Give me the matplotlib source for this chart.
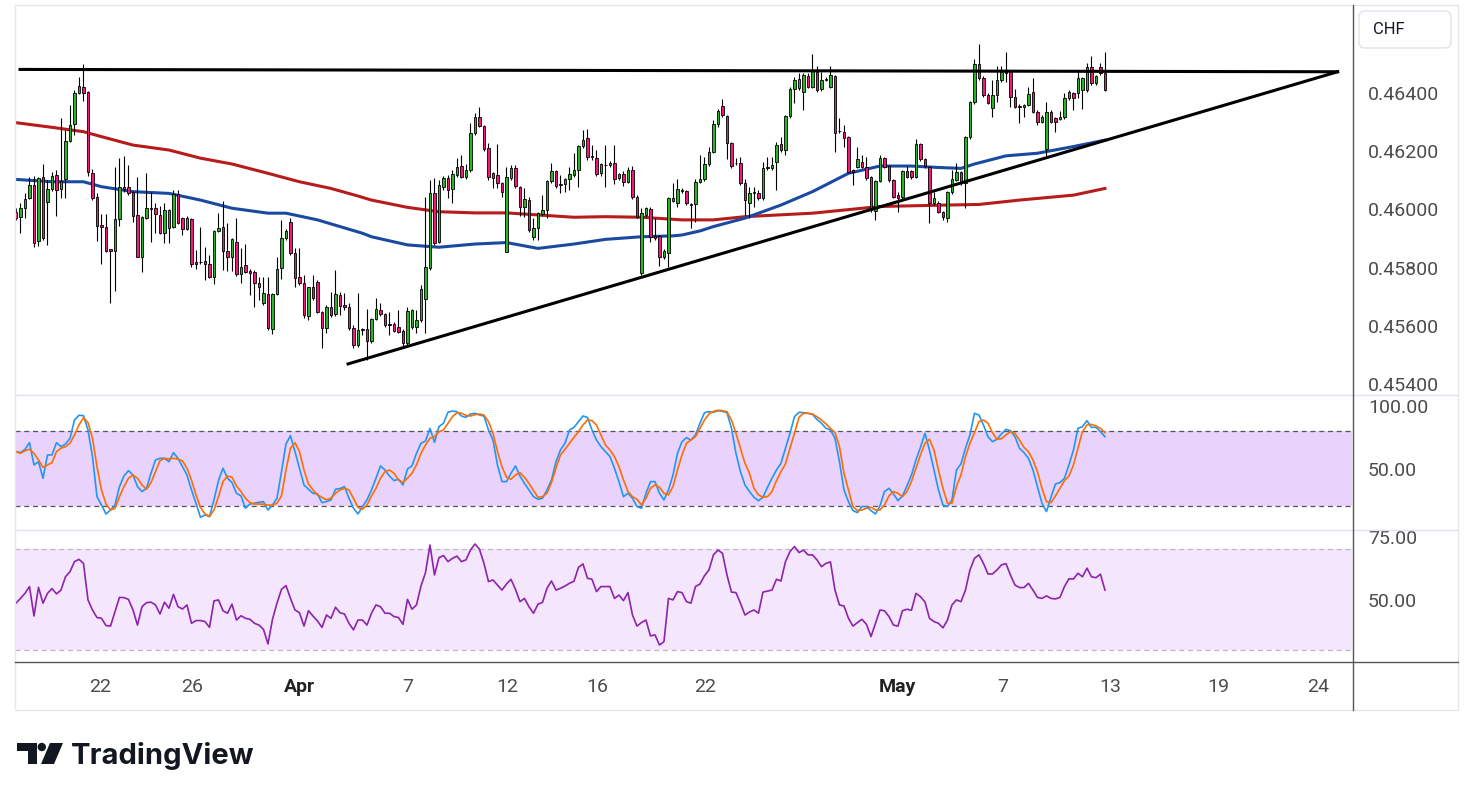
import numpy as np
import matplotlib.pyplot as plt
from matplotlib.patches import Rectangle, FancyBboxPatch, Polygon, Circle
from matplotlib.lines import Line2D

plt.rcParams['font.family'] = ['Roboto', 'DejaVu Sans']

# 4h candles, prices in 1e-5 CHF
opens = [45992, 45973, 46004, 46038, 46084, 45891, 46110, 46027, 46069, 46117,
         46069, 46103, 46235, 46292, 46401, 46422, 46402, 46124, 46042, 45946,
         45941, 45863, 45858, 45968, 46077, 46077, 46061, 45981, 45838, 45970,
         46004, 46004, 45981, 45918, 45935, 45939, 46052, 45970, 45932, 45967,
         45818, 45819, 45822, 45812, 45766, 45927, 45939, 45858, 45838, 45889,
         45777, 45809, 45788, 45784, 45748, 45679, 45709, 45588, 45708, 45797,
         45901, 45958, 45849, 45766, 45746, 45632, 45732, 45752, 45648, 45591,
         45665, 45641, 45706, 45671, 45663, 45591, 45534, 45589, 45588, 45549,
         45622, 45654, 45641, 45606, 45605, 45595, 45583, 45542, 45595, 45597,
         45620, 45692, 45797, 46055, 45889, 46076, 46107, 46069, 46118, 46150,
         46110, 46135, 46261, 46316, 46287, 46210, 46124, 46118, 46090, 45855,
         46107, 46141, 46078, 46007, 46032, 45906, 45935, 45984, 45998, 46098,
         46132, 46087, 46087, 46103, 46118, 46135, 46218, 46244, 46182, 46178,
         46124, 46154, 46152, 46158, 46107, 46121, 46095, 46135, 46042, 45780,
         45981, 46000, 45909, 45910, 45835, 45851, 46030, 46023, 46067, 46064,
         46018, 46017, 46095, 46103, 46155, 46198, 46293, 46355, 46321, 46229,
         46160, 46158, 46092, 46023, 46055, 46058, 46038, 46144, 46141, 46164,
         46224, 46204, 46321, 46413, 46416, 46404, 46458, 46422, 46473, 46413,
         46448, 46422, 46458, 46269, 46267, 46248, 46135, 46147, 46164, 46147,
         46110, 45996, 46099, 46175, 46149, 46101, 46050, 46042, 46132, 46132,
         46112, 46224, 46172, 46147, 46021, 46022, 45992, 45970, 46059, 46101,
         46127, 46090, 46248, 46368, 46500, 46451, 46393, 46347, 46393, 46445,
         46468, 46473, 46387, 46354, 46351, 46359, 46404, 46336, 46301, 46207,
         46336, 46313, 46312, 46316, 46382, 46399, 46399, 46410, 46410, 46488,
         46433, 46488, 46468]
highs = [46005, 46021, 46055, 46112, 46115, 46112, 46156, 46101, 46130, 46135,
         46314, 46273, 46359, 46410, 46456, 46500, 46407, 46139, 46058, 45983,
         45983, 45864, 46147, 46177, 46184, 46152, 46064, 46112, 45977, 46126,
         46061, 46021, 46012, 46021, 46001, 46067, 46067, 45974, 45978, 45970,
         45860, 45939, 45872, 45843, 45929, 45987, 46028, 45952, 45902, 45970,
         45866, 45881, 45794, 45792, 45766, 45766, 45766, 45712, 45838, 45964,
         45933, 45972, 45866, 45866, 45774, 45733, 45774, 45757, 45651, 45671,
         45717, 45792, 45717, 45712, 45678, 45603, 45712, 45593, 45658, 45627,
         45694, 45679, 45644, 45648, 45613, 45654, 45589, 45665, 45658, 45654,
         45740, 46044, 46101, 46107, 46101, 46115, 46118, 46135, 46175, 46187,
         46156, 46296, 46330, 46351, 46290, 46228, 46128, 46225, 46094, 46146,
         46152, 46152, 46080, 46072, 46041, 45970, 45991, 46049, 46101, 46158,
         46135, 46118, 46108, 46147, 46193, 46221, 46273, 46275, 46221, 46204,
         46160, 46221, 46167, 46221, 46126, 46132, 46147, 46149, 46049, 46004,
         46009, 46009, 45970, 45912, 45864, 46044, 46090, 46103, 46074, 46067,
         46022, 46103, 46187, 46181, 46213, 46307, 46344, 46378, 46324, 46231,
         46177, 46179, 46103, 46078, 46078, 46067, 46164, 46181, 46179, 46233,
         46250, 46324, 46422, 46456, 46468, 46468, 46470, 46534, 46493, 46473,
         46455, 46493, 46462, 46313, 46290, 46252, 46139, 46215, 46187, 46181,
         46115, 46101, 46187, 46181, 46152, 46103, 46061, 46135, 46149, 46135,
         46241, 46227, 46177, 46149, 46061, 46029, 45995, 46064, 46135, 46160,
         46132, 46252, 46372, 46516, 46568, 46458, 46400, 46445, 46493, 46493,
         46542, 46479, 46413, 46362, 46362, 46420, 46450, 46342, 46324, 46370,
         46342, 46318, 46339, 46399, 46410, 46403, 46473, 46455, 46502, 46527,
         46462, 46504, 46542]
lows = [45964, 45920, 45970, 46036, 45870, 45874, 45895, 45879, 46063, 45978,
        46038, 46039, 46232, 46256, 46397, 46374, 46115, 46032, 45893, 45812,
        45854, 45678, 45721, 45944, 46060, 46050, 45958, 45835, 45784, 45967,
        45889, 45920, 45916, 45886, 45885, 45936, 45950, 45912, 45929, 45803,
        45794, 45812, 45757, 45764, 45742, 45922, 45792, 45790, 45790, 45771,
        45746, 45782, 45706, 45665, 45689, 45671, 45586, 45572, 45706, 45762,
        45895, 45843, 45732, 45740, 45627, 45620, 45689, 45644, 45523, 45575,
        45630, 45634, 45637, 45654, 45586, 45523, 45527, 45569, 45483, 45541,
        45620, 45634, 45596, 45569, 45579, 45575, 45528, 45528, 45589, 45576,
        45613, 45576, 45792, 45878, 45885, 46067, 46038, 46023, 46111, 46108,
        46104, 46128, 46256, 46283, 46201, 46101, 46072, 46074, 46044, 45854,
        46101, 46074, 45977, 45975, 45922, 45895, 45895, 45977, 45969, 46091,
        46074, 46055, 46061, 46067, 46111, 46078, 46211, 46170, 46170, 46115,
        46115, 46078, 46146, 46087, 46101, 46080, 46091, 46036, 45970, 45775,
        45974, 45889, 45895, 45806, 45830, 45803, 46025, 46009, 46056, 46015,
        45935, 45958, 46091, 46098, 46149, 46194, 46284, 46317, 46172, 46142,
        46153, 46084, 45981, 45970, 46009, 46032, 46032, 46135, 46135, 46067,
        46197, 46187, 46314, 46367, 46410, 46342, 46417, 46417, 46403, 46407,
        46441, 46417, 46198, 46262, 46215, 46125, 46084, 46142, 46142, 46101,
        45992, 45964, 46094, 46142, 46094, 46039, 45992, 46036, 46108, 46104,
        46108, 46166, 46142, 45952, 46015, 45988, 45964, 45958, 46053, 46098,
        46084, 46004, 46242, 46362, 46445, 46386, 46362, 46317, 46370, 46438,
        46439, 46351, 46348, 46298, 46317, 46355, 46331, 46290, 46297, 46181,
        46297, 46267, 46307, 46311, 46376, 46342, 46382, 46344, 46403, 46427,
        46427, 46462, 46407]
closes = [45972, 46004, 46035, 46084, 45884, 46109, 45901, 46069, 46115, 46067,
          46099, 46235, 46290, 46399, 46424, 46399, 46127, 46038, 45944, 45939,
          45858, 45858, 45967, 46077, 46070, 46058, 45978, 45838, 45974, 46004,
          46000, 45983, 45918, 45998, 45998, 46052, 45954, 45932, 45970, 45812,
          45812, 45820, 45812, 45768, 45926, 45935, 45858, 45835, 45897, 45777,
          45803, 45786, 45780, 45746, 45734, 45711, 45591, 45709, 45794, 45901,
          45927, 45849, 45763, 45746, 45636, 45732, 45694, 45648, 45591, 45665,
          45637, 45708, 45669, 45663, 45591, 45534, 45586, 45586, 45549, 45622,
          45658, 45641, 45603, 45604, 45583, 45580, 45542, 45651, 45654, 45620,
          45726, 45801, 46055, 45886, 46084, 46107, 46067, 46121, 46147, 46112,
          46135, 46261, 46316, 46288, 46207, 46110, 46107, 46092, 46061, 46110,
          46141, 46080, 46007, 46035, 45929, 45935, 45987, 45998, 46098, 46132,
          46080, 46085, 46103, 46121, 46135, 46218, 46238, 46181, 46180, 46121,
          46156, 46152, 46160, 46103, 46121, 46095, 46135, 46042, 45975, 45987,
          46004, 45904, 45901, 45838, 45857, 46038, 46038, 46069, 46064, 46021,
          46016, 46095, 46103, 46155, 46198, 46292, 46338, 46324, 46229, 46150,
          46158, 46092, 46032, 46055, 46061, 46038, 46141, 46142, 46152, 46221,
          46204, 46321, 46413, 46445, 46447, 46462, 46422, 46476, 46410, 46445,
          46446, 46462, 46263, 46268, 46244, 46130, 46130, 46172, 46147, 46107,
          45998, 46099, 46175, 46147, 46101, 46044, 46038, 46132, 46112, 46110,
          46224, 46172, 46149, 46021, 46038, 45992, 45973, 46059, 46103, 46127,
          46090, 46248, 46368, 46500, 46451, 46393, 46367, 46393, 46445, 46473,
          46473, 46387, 46353, 46352, 46359, 46397, 46336, 46301, 46318, 46336,
          46301, 46301, 46316, 46382, 46404, 46382, 46451, 46451, 46488, 46433,
          46458, 46468, 46410]

# moving averages read at some bars
ma_blue_bar = [0, 8, 15, 19, 26, 34, 41, 48, 56, 60, 67, 72, 77, 79, 87, 94, 102, 109,
               116, 124, 131, 139, 146, 148, 152, 155, 162, 170, 177, 185, 192, 199,
               205, 210, 213, 220, 227, 235, 242]
ma_blue = [46103, 46095, 46095, 46078, 46061, 46055, 46032, 46004, 45987, 45987, 45964,
           45941, 45918, 45906, 45878, 45870, 45881, 45886, 45866, 45881, 45897, 45906,
           45909, 45912, 45926, 45941, 45970, 46015, 46061, 46124, 46149, 46149, 46144,
           46141, 46156, 46184, 46193, 46216, 46238]
ma_red_bar = [0, 8, 15, 19, 26, 34, 41, 48, 56, 63, 70, 76, 79, 87, 94, 102, 109, 116,
              124, 131, 139, 146, 148, 155, 162, 177, 192, 207, 214, 223, 235, 242]
ma_red = [46298, 46282, 46267, 46250, 46221, 46204, 46176, 46156, 46124, 46095, 46072,
          46046, 46032, 46007, 45992, 45988, 45988, 45981, 45973, 45975, 45973, 45966,
          45964, 45964, 45975, 45987, 46010, 46015, 46017, 46032, 46049, 46072]

# triangle drawing: (bar, price)
resist_pts = [(0.9, 0.46481), (293.7, 0.46473)]
support_pts = [(73.8, 0.45469), (293.7, 0.46473)]

stoch_k = [63.7, 62.9, 65.5, 70.9, 53.0, 55.6, 42.3, 61.0, 61.0, 70.9,
           67.7, 69.8, 74.4, 89.1, 92.9, 92.6, 81.1, 59.7, 27.5, 20.8,
           13.6, 16.8, 20.8, 35.6, 44.1, 48.4, 44.9, 35.6, 31.6, 34.2,
           46.3, 57.0, 58.3, 58.3, 55.6, 62.9, 58.3, 51.6, 44.9, 32.9,
           22.2, 10.9, 12.8, 11.5, 24.9, 40.4, 50.3, 42.3, 38.8, 30.2,
           28.1, 18.2, 21.6, 22.2, 23.0, 23.5, 16.8, 20.8, 26.2, 47.6,
           69.8, 76.5, 63.7, 50.3, 36.9, 33.4, 30.2, 29.7, 22.7, 23.5,
           24.9, 33.4, 34.0, 35.6, 26.2, 18.2, 13.6, 19.5, 24.9, 32.9,
           42.3, 52.2, 48.9, 44.1, 40.4, 41.5, 36.9, 49.8, 52.2, 62.3,
           70.4, 72.2, 82.4, 71.2, 83.8, 86.5, 95.3, 96.3, 95.8, 92.3,
           91.2, 93.9, 94.5, 93.1, 92.3, 81.1, 73.0, 53.0, 39.6, 39.6,
           46.3, 52.2, 44.1, 38.2, 32.9, 27.5, 25.4, 26.2, 32.9, 40.9,
           55.6, 65.0, 70.4, 81.1, 83.2, 87.8, 92.3, 91.2, 81.1, 73.0,
           67.7, 63.7, 59.7, 50.3, 39.6, 27.5, 30.2, 26.2, 19.5, 18.2,
           30.2, 39.6, 39.6, 30.2, 24.9, 32.9, 44.9, 62.3, 71.7, 74.9,
           73.0, 77.1, 86.5, 95.0, 95.8, 95.3, 96.6, 96.1, 95.0, 82.4,
           62.3, 47.6, 36.9, 31.6, 27.0, 24.3, 27.0, 35.0, 42.3, 48.9,
           54.3, 66.4, 78.4, 91.8, 95.3, 95.0, 94.5, 93.7, 89.6, 86.5,
           82.4, 81.1, 74.4, 55.6, 32.9, 23.5, 16.3, 14.7, 19.5, 19.5,
           16.3, 13.6, 20.1, 31.6, 34.2, 29.7, 24.3, 28.1, 36.1, 44.9,
           57.0, 67.2, 78.4, 65.0, 48.9, 32.9, 20.8, 19.5, 24.9, 48.9,
           53.8, 66.4, 77.1, 94.5, 93.1, 85.1, 75.7, 71.7, 73.6, 77.9,
           81.6, 80.5, 75.7, 66.4, 62.9, 58.3, 48.9, 35.6, 22.2, 15.5,
           27.0, 37.7, 38.8, 42.3, 53.0, 65.0, 82.4, 83.8, 88.6, 83.2,
           83.2, 79.7, 75.7]
stoch_d = [63.7, 62.3, 64.5, 65.5, 62.3, 57.0, 51.1, 53.0, 54.8, 63.7,
           66.4, 67.7, 70.4, 77.1, 85.1, 91.0, 87.0, 74.4, 51.6, 32.9,
           21.6, 16.8, 18.2, 27.5, 35.6, 42.3, 44.9, 42.3, 36.9, 33.4,
           38.8, 47.6, 56.4, 58.3, 57.8, 58.3, 57.8, 56.2, 50.3, 40.9,
           28.9, 18.9, 13.6, 11.5, 16.8, 27.5, 39.6, 44.1, 43.1, 36.1,
           31.6, 26.2, 22.7, 21.6, 21.6, 21.4, 20.8, 20.6, 22.2, 28.1,
           48.9, 66.4, 70.9, 63.7, 48.9, 37.7, 32.9, 28.9, 27.0, 24.9,
           26.2, 30.2, 32.9, 34.2, 32.9, 26.2, 18.9, 17.4, 20.8, 28.1,
           34.2, 42.3, 47.6, 48.9, 46.3, 40.9, 38.8, 42.3, 46.3, 53.0,
           62.3, 69.0, 74.4, 75.7, 79.7, 81.1, 86.5, 91.8, 95.0, 94.5,
           92.9, 92.3, 93.4, 93.9, 93.1, 87.8, 78.4, 63.7, 51.6, 43.1,
           41.5, 44.9, 46.8, 43.1, 38.2, 32.4, 27.0, 27.5, 30.2, 38.8,
           50.3, 61.0, 65.5, 70.4, 75.2, 79.7, 85.1, 89.1, 88.6, 85.1,
           77.1, 69.0, 65.0, 59.7, 51.6, 40.9, 31.6, 27.5, 25.4, 20.8,
           26.2, 34.2, 36.9, 35.0, 30.2, 28.9, 35.6, 48.9, 61.0, 70.4,
           73.0, 75.7, 82.4, 89.1, 93.9, 96.1, 96.9, 96.6, 95.8, 89.1,
           78.4, 66.4, 54.3, 46.3, 34.2, 28.9, 27.0, 27.5, 31.6, 40.4,
           47.6, 53.8, 66.4, 78.4, 91.2, 94.5, 94.5, 93.7, 91.8, 89.1,
           85.9, 82.4, 78.9, 67.7, 46.3, 32.9, 19.5, 16.3, 16.8, 18.2,
           19.0, 16.8, 16.8, 20.8, 28.1, 31.6, 30.2, 27.5, 31.6, 39.6,
           50.3, 61.0, 70.4, 73.6, 65.0, 48.9, 34.2, 22.2, 22.2, 35.6,
           44.9, 59.7, 70.4, 78.9, 87.8, 89.1, 86.5, 78.9, 73.6, 74.1,
           77.1, 79.7, 78.4, 73.0, 67.2, 63.7, 57.0, 47.6, 34.2, 23.5,
           22.7, 28.1, 34.2, 40.4, 44.1, 53.0, 66.4, 79.7, 85.1, 85.6,
           84.3, 82.4, 78.9]
rsi = [48.6, 50.5, 52.5, 55.2, 43.5, 54.9, 48.6, 52.5, 54.4, 52.3,
       53.8, 59.1, 61.1, 65.1, 66.0, 64.4, 49.9, 45.9, 42.9, 42.6,
       39.7, 39.5, 45.2, 50.9, 50.8, 50.1, 45.9, 39.9, 47.2, 48.8,
       49.0, 47.9, 44.3, 49.0, 46.6, 52.1, 47.2, 46.3, 47.9, 40.6,
       41.7, 41.7, 41.3, 39.0, 49.5, 49.9, 45.6, 44.6, 48.2, 41.9,
       43.6, 42.6, 42.2, 40.6, 39.9, 38.2, 32.4, 42.2, 48.6, 54.1,
       55.6, 50.5, 45.9, 44.8, 39.5, 45.6, 43.5, 41.5, 39.0, 43.9,
       42.6, 47.0, 44.8, 44.3, 40.6, 38.0, 41.9, 41.9, 39.9, 44.6,
       47.9, 47.2, 44.6, 44.6, 43.3, 42.9, 40.2, 50.1, 46.2, 47.9,
       55.4, 60.7, 71.7, 59.8, 66.7, 67.5, 65.1, 66.4, 67.3, 65.1,
       65.8, 69.7, 72.1, 70.0, 64.4, 57.2, 57.8, 55.8, 53.8, 56.2,
       58.1, 54.1, 49.2, 50.5, 47.2, 44.6, 48.2, 48.9, 54.5, 57.4,
       53.8, 54.5, 55.4, 56.5, 57.3, 62.8, 64.2, 58.5, 58.1, 53.2,
       55.2, 55.2, 55.2, 50.5, 51.8, 49.6, 52.8, 43.9, 39.5, 40.9,
       41.9, 35.6, 36.0, 32.0, 33.3, 50.5, 49.9, 53.2, 52.8, 49.2,
       48.6, 55.2, 56.2, 59.5, 61.8, 67.8, 69.7, 68.4, 59.8, 53.0,
       52.8, 48.6, 43.9, 45.1, 45.9, 44.6, 53.0, 53.4, 53.8, 58.1,
       57.4, 65.1, 69.1, 71.1, 68.7, 69.7, 67.8, 67.8, 65.8, 63.1,
       64.4, 65.0, 53.8, 47.9, 47.5, 42.6, 39.5, 40.9, 42.2, 40.2,
       35.3, 40.6, 45.9, 45.6, 43.3, 39.9, 39.5, 45.6, 46.2, 45.8,
       52.5, 51.2, 49.1, 42.6, 41.3, 40.6, 38.8, 41.9, 47.9, 49.9,
       49.2, 53.8, 61.8, 66.4, 67.8, 64.4, 60.2, 60.2, 61.8, 63.8,
       64.3, 59.8, 55.8, 54.8, 54.8, 56.5, 53.8, 50.9, 50.5, 51.5,
       50.5, 50.3, 50.9, 55.2, 58.3, 58.2, 60.5, 59.1, 62.5, 59.1,
       58.7, 60.1, 53.8]

price_ticks = [0.454, 0.456, 0.458, 0.460, 0.462, 0.464]
date_bars = [18.7, 39.1, 63.1, 87.1, 109.1, 129.1, 153.1, 195.8, 219.3, 243.1, 267.1, 289.3]
date_labels = ['22', '26', 'Apr', '7', '12', '16', '22', 'May', '7', '13', '19', '24']

W, H = 1473, 800
fig = plt.figure(figsize=(W / 100, H / 100), dpi=100)


def rect(x0, y0, x1, y1):
    return [x0 / W, 1 - y1 / H, (x1 - x0) / W, (y1 - y0) / H]


ax = fig.add_axes(rect(15, 5, 1352, 395))
ax_st = fig.add_axes(rect(15, 395, 1352, 530))
ax_rsi = fig.add_axes(rect(15, 530, 1352, 662))

o = np.array(opens) / 1e5
h = np.array(highs) / 1e5
l = np.array(lows) / 1e5
c = np.array(closes) / 1e5
x = np.arange(len(c))
up = c >= o

ax.plot(ma_red_bar, np.array(ma_red) / 1e5, color='#b71c1c', lw=2.2, zorder=2)
ax.plot(ma_blue_bar, np.array(ma_blue) / 1e5, color='#1a4aa0', lw=2.2, zorder=2)
ax.vlines(x, l, h, color='black', lw=0.8, zorder=3)
ax.bar(x[up], (c - o)[up], bottom=o[up], width=0.62, color='#2ab42a',
       edgecolor='black', lw=0.6, zorder=4)
ax.bar(x[~up], (o - c)[~up], bottom=c[~up], width=0.62, color='#f3197a',
       edgecolor='black', lw=0.6, zorder=4)
for pts in (resist_pts, support_pts):
    ax.plot([p[0] for p in pts], [p[1] for p in pts], color='black', lw=2.2, zorder=5)

ax.set_ylim(0.453622, 0.467024)
ax.set_yticks(price_ticks)
ax.set_yticklabels(['%.5f' % v for v in price_ticks])

ax_st.axhspan(20, 80, color='#e9d2fc', lw=0)
ax_st.axhline(80, color='#555555', lw=0.9, dashes=(4, 3))
ax_st.axhline(20, color='#555555', lw=0.9, dashes=(4, 3))
ax_st.plot(x, stoch_k, color='#2196f3', lw=1.2)
ax_st.plot(x, stoch_d, color='#ff6d00', lw=1.2)
ax_st.set_ylim(0.7, 109.2)
ax_st.set_yticks([50, 100])
ax_st.set_yticklabels(['50.00', '100.00'])

ax_rsi.axhspan(30, 70, color='#f3e6fd', lw=0)
ax_rsi.axhline(70, color='#b8b8bf', lw=0.9, dashes=(4, 3))
ax_rsi.axhline(30, color='#b8b8bf', lw=0.9, dashes=(4, 3))
ax_rsi.plot(x, rsi, color='#8e24aa', lw=1.2)
ax_rsi.set_ylim(25.24, 77.66)
ax_rsi.set_yticks([50, 75])
ax_rsi.set_yticklabels(['50.00', '75.00'])

for a in (ax, ax_st, ax_rsi):
    a.set_xlim(-0.22, 296.9)
    a.yaxis.tick_right()
    a.tick_params(axis='y', length=0, pad=11.5, labelsize=14, labelcolor='#4c4c4c')
    a.tick_params(axis='x', length=0)
    a.set_xticks([])
    for s in a.spines.values():
        s.set_visible(False)

ax_rsi.set_xticks(date_bars)
ax_rsi.set_xticklabels(date_labels)
ax_rsi.tick_params(axis='x', pad=11.5, labelsize=14, labelcolor='#4c4c4c')
for t in ax_rsi.get_xticklabels():
    if t.get_text() in ('Apr', 'May'):
        t.set_fontweight('semibold')
        t.set_color('#222222')

# frame, separators, logo in pixel coordinates
ov = fig.add_axes([0, 0, 1, 1], zorder=10)
ov.set_xlim(0, W)
ov.set_ylim(H, 0)
ov.axis('off')
ov.add_patch(Rectangle((15, 5), 1443, 705, fill=False, ec='#e6e6ea', lw=1))
for yy in (395, 530):
    ov.add_line(Line2D([15, 1458], [yy, yy], color='#e0e3eb', lw=1))
ov.add_line(Line2D([15, 1458], [662, 662], color='#555555', lw=1))
ov.add_line(Line2D([1352.5, 1352.5], [5, 710], color='#555555', lw=1))

ov.add_patch(FancyBboxPatch((1359, 11), 92, 37, boxstyle='round,pad=0,rounding_size=6',
                            fc='white', ec='#e0e3eb', lw=1))
ov.text(1373, 30, 'CHF', fontsize=12, color='#131722', va='center', ha='left')

ov.add_patch(Rectangle((17.3, 743), 19.4, 7.7, color='#131722', lw=0))
ov.add_patch(Rectangle((28.3, 743), 8.4, 21, color='#131722', lw=0))
ov.add_patch(Circle((41.8, 747), 4.2, color='#131722', lw=0))
ov.add_patch(Polygon([(50, 743), (63, 743), (54, 764), (41, 764)], closed=True,
                     color='#131722', lw=0))
ov.text(71, 764.3, 'TradingView', fontsize=21, fontweight='bold', color='#131722',
        va='baseline', ha='left', family=['Inter', 'DejaVu Sans'])

fig.savefig('out.png', dpi=100)
